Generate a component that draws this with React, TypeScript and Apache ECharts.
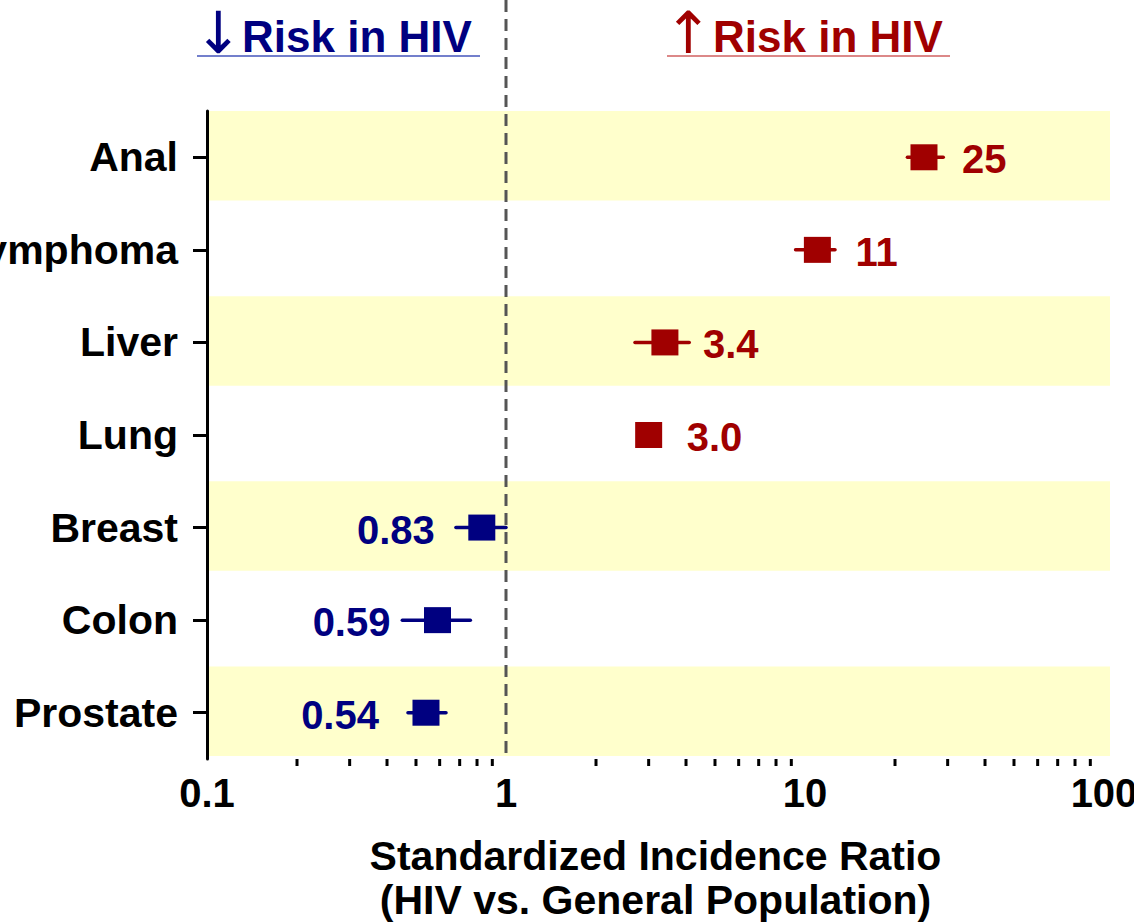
import React, { useEffect, useRef } from "react";
import * as echarts from "echarts";

const categories = ["Anal", "Lymphoma", "Liver", "Lung", "Breast", "Colon", "Prostate"];
const sir = [25, 11, 3.4, 3.0, 0.83, 0.59, 0.54];
const ciLow = [22, 9.3, 2.7, 2.8, 0.68, 0.45, 0.47];
const ciHigh = [29, 12.6, 4.1, 3.2, 1.0, 0.76, 0.63];
const sirLabels = ["25", "11", "3.4", "3.0", "0.83", "0.59", "0.54"];
const shadedRows = [0, 2, 4, 6];
const minorTicks = [0.2, 0.3, 0.4, 0.5, 0.6, 0.7, 0.8, 0.9, 2, 3, 4, 5, 6, 7, 8, 9, 20, 30, 40, 50, 60, 70, 80, 90];
const refValue = 1;

const RED = "#A00000";
const NAVY = "#000080";
const FONT = "'Liberation Sans', Arial, sans-serif";

export default function App() {
  const ref = useRef<HTMLDivElement>(null);
  useEffect(() => {
    if (!ref.current) return;
    const chart = echarts.init(ref.current, null, { renderer: "svg" });
    const option: any = {
      animation: false,
      backgroundColor: "#FFFFFF",
      textStyle: { fontFamily: FONT },
      grid: { left: 207, right: 30, top: 111, bottom: 164, containLabel: false, outerBoundsMode: "none" },
      xAxis: {
        type: "log",
        logBase: 10,
        min: 0.1,
        max: 100,
        name: "Standardized Incidence Ratio\n(HIV vs. General Population)",
        nameLocation: "middle",
        nameGap: 75,
        nameTextStyle: { fontSize: 41, fontWeight: "bold", color: "#000", lineHeight: 44, fontFamily: FONT },
        axisLine: { lineStyle: { color: "#000", width: 3 } },
        axisTick: { length: 13, lineStyle: { color: "#000", width: 3 } },
        axisLabel: {
          fontSize: 40,
          fontWeight: "bold",
          color: "#000",
          margin: 14,
          fontFamily: FONT,
          formatter: (v: number) => (v < 1 ? String(Number(v.toFixed(1))) : String(Math.round(v))),
        },
        splitLine: { show: false },
      },
      yAxis: {
        type: "category",
        data: categories,
        inverse: true,
        axisLine: { lineStyle: { color: "#000", width: 3 } },
        axisTick: { show: true, alignWithLabel: true, length: 14, lineStyle: { color: "#000", width: 3 } },
        axisLabel: { fontSize: 41, fontWeight: "bold", color: "#000", margin: 29, fontFamily: FONT },
        splitLine: { show: false },
      },
      graphic: [
        { type: "text", left: 194, top: 4, style: { text: "↓", fontSize: 58, fontFamily: "'DejaVu Sans', sans-serif", fill: NAVY }, z: 10 },
        { type: "text", x: 242, y: 36, style: { text: "Risk in HIV", fontSize: 44, fontWeight: "bold", fontFamily: FONT, fill: NAVY, verticalAlign: "middle", align: "left" }, z: 10 },
        { type: "line", shape: { x1: 197, y1: 56, x2: 480, y2: 56 }, style: { stroke: "#4455BB", lineWidth: 1.5 }, z: 10 },
        { type: "text", left: 664, top: 4, style: { text: "↑", fontSize: 58, fontFamily: "'DejaVu Sans', sans-serif", fill: RED }, z: 10 },
        { type: "text", x: 713, y: 36, style: { text: "Risk in HIV", fontSize: 44, fontWeight: "bold", fontFamily: FONT, fill: RED, verticalAlign: "middle", align: "left" }, z: 10 },
        { type: "line", shape: { x1: 667, y1: 56, x2: 950, y2: 56 }, style: { stroke: "#D06060", lineWidth: 1.5 }, z: 10 },
      ],
      series: [
        {
          type: "custom",
          name: "bands",
          z: 0,
          clip: false,
          silent: true,
          data: shadedRows.map((r) => [refValue, r]),
          encode: { x: 0, y: 1 },
          renderItem: (params: any, api: any) => {
            const cs = params.coordSys;
            const h = cs.height / categories.length;
            const yc = api.coord([api.value(0), api.value(1)])[1];
            return {
              type: "rect",
              shape: { x: cs.x + 2, y: yc - h / 2, width: cs.width + 4, height: h - 3 },
              style: { fill: "#FFFFCC" },
            };
          },
        },
        {
          type: "custom",
          name: "reference",
          z: 2,
          clip: false,
          silent: true,
          data: [[refValue, 0]],
          encode: { x: 0, y: 1 },
          renderItem: (params: any, api: any) => {
            const cs = params.coordSys;
            const x = api.coord([api.value(0), 0])[0];
            return {
              type: "line",
              shape: { x1: x, y1: 0, x2: x, y2: cs.y + cs.height },
              style: { stroke: "#555555", lineWidth: 3, lineDash: [12, 7] },
            };
          },
        },
        {
          type: "custom",
          name: "minorTicks",
          z: 3,
          clip: false,
          silent: true,
          data: minorTicks.map((v) => [v, 0]),
          encode: { x: 0, y: 1 },
          renderItem: (params: any, api: any) => {
            const cs = params.coordSys;
            const x = api.coord([api.value(0), 0])[0];
            const yb = cs.y + cs.height;
            return {
              type: "line",
              shape: { x1: x, y1: yb, x2: x, y2: yb + 7 },
              style: { stroke: "#000", lineWidth: 3 },
            };
          },
        },
        {
          type: "custom",
          name: "SIR",
          z: 4,
          clip: false,
          data: categories.map((c, i) => [sir[i], ciLow[i], ciHigh[i], i, sirLabels[i]]),
          encode: { x: [0, 1, 2], y: 3 },
          renderItem: (params: any, api: any) => {
            const est = api.value(0);
            const row = api.value(3);
            const p = api.coord([est, row]);
            const lo = api.coord([api.value(1), row]);
            const hi = api.coord([api.value(2), row]);
            const color = est > 1 ? RED : NAVY;
            const label = sirLabels[row];
            const right = est > 1;
            return {
              type: "group",
              children: [
                {
                  type: "line",
                  shape: { x1: lo[0], y1: p[1], x2: hi[0], y2: p[1] },
                  style: { stroke: color, lineWidth: 3.5, lineCap: "round" },
                },
                {
                  type: "rect",
                  shape: { x: p[0] - 13.5, y: p[1] - 13, width: 27, height: 26 },
                  style: { fill: color },
                },
                {
                  type: "text",
                  x: right ? p[0] + 38 : p[0] - 47,
                  y: p[1] + 2,
                  style: {
                    text: label,
                    fontSize: 40,
                    fontWeight: "bold",
                    fontFamily: FONT,
                    fill: color,
                    align: right ? "left" : "right",
                    verticalAlign: "middle",
                  },
                },
              ],
            };
          },
        },
      ],
    };
    chart.setOption(option);
    return () => chart.dispose();
  }, []);
  return <div ref={ref} style={{ position: "fixed", left: 0, top: 0, width: 1134, height: 923 }} />;
}
